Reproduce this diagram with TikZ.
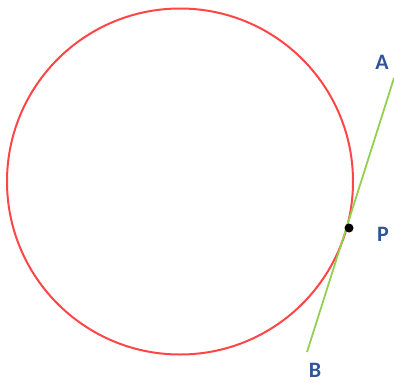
\documentclass[tikz,border=0pt]{standalone}
\usepackage{fontspec}
\setmainfont{Carlito}
\usetikzlibrary{positioning}
\definecolor{circRed}{HTML}{FF4545}
\definecolor{lineGreen}{HTML}{92D050}
\definecolor{labelBlue}{HTML}{2F5597}
\begin{document}
\begin{tikzpicture}[
  x=1pt, y=-1pt,
  circ/.style={draw=circRed, line width=2pt},
  tangent/.style={draw=lineGreen, line width=1.8pt},
  lbl/.style={text=labelBlue, font=\fontsize{22}{22}\selectfont\bfseries, inner sep=0pt},
  ptdot/.style={circle, fill=black, inner sep=0pt, minimum size=9pt}
]
\useasboundingbox (0,0) rectangle (394,383);
\coordinate (O) at (180,181.5);
\draw[circ] (O) circle (173);
\coordinate (a) at (394,78);
\coordinate (b) at (307,352);
\draw[tangent] (a) -- (b);
\node[ptdot] (p) at (349,228) {};
\node[lbl] (A) at (382,62) {A};
\node[lbl] (P) at (383,234) {P};
\node[lbl] (B) at (315,370) {B};
\end{tikzpicture}
\end{document}
